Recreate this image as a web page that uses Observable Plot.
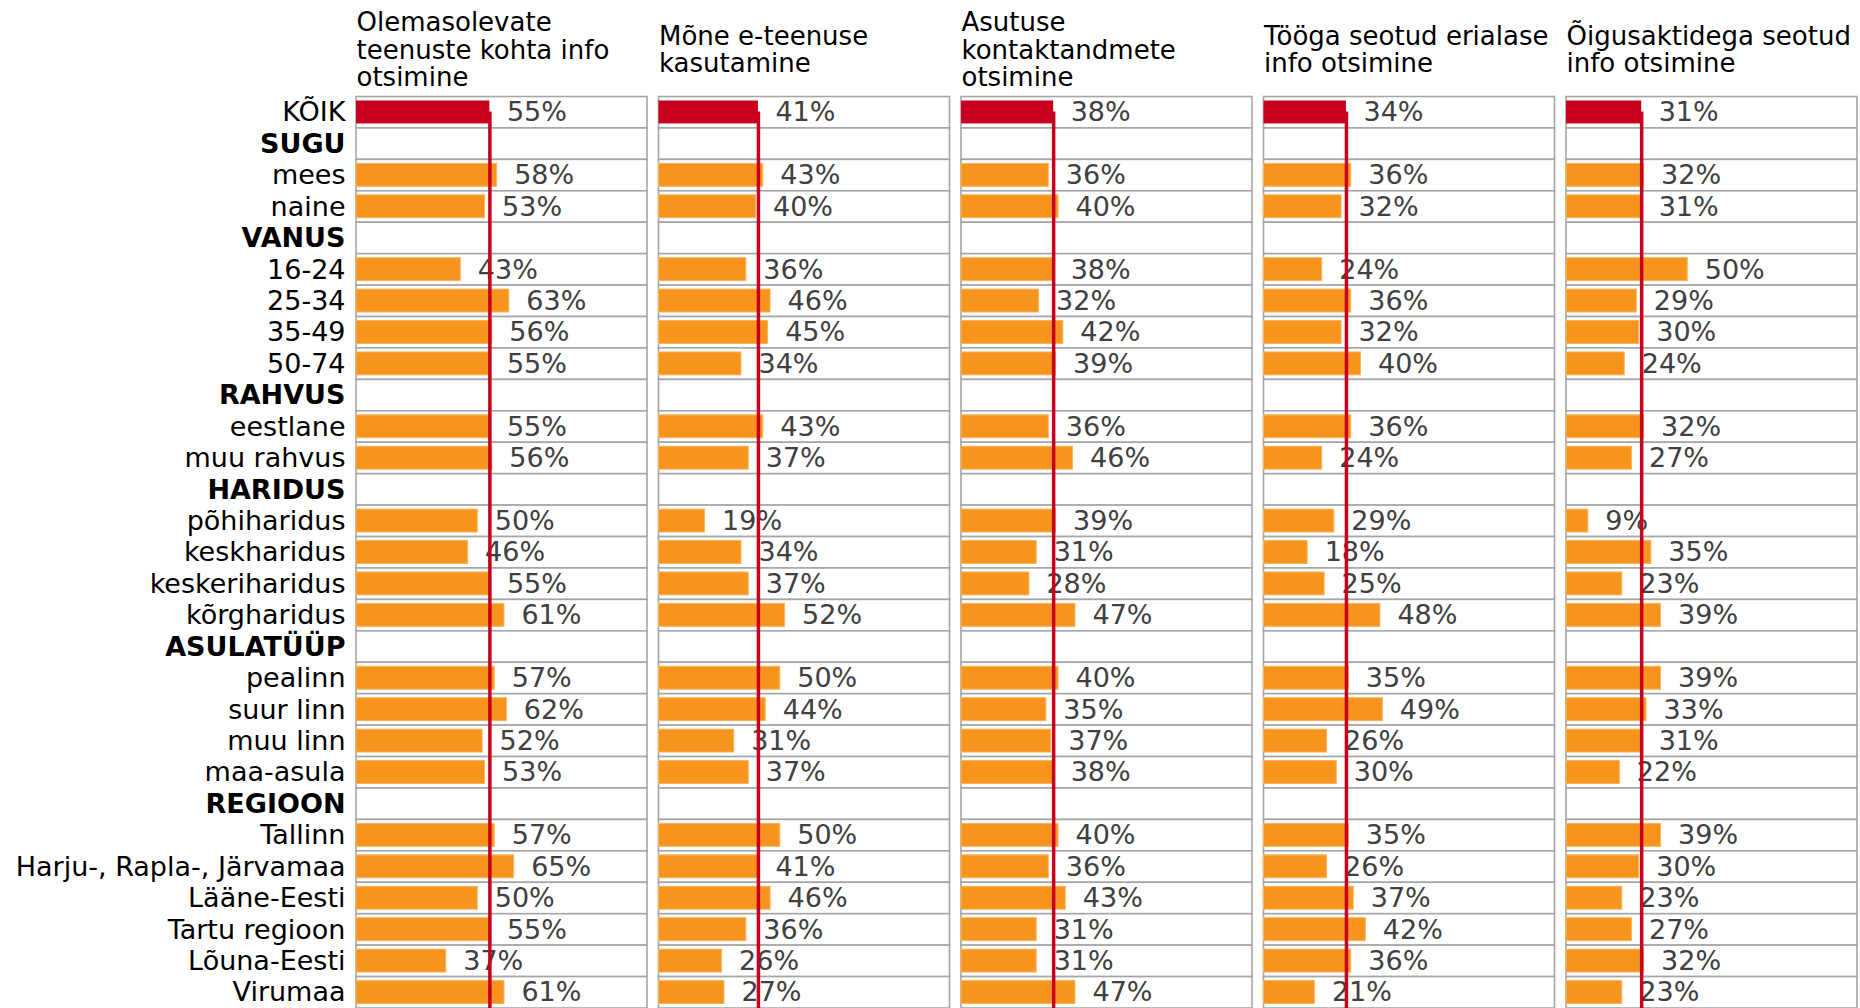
<!DOCTYPE html>
<html>
<head>
<meta charset="utf-8">
<script src="https://cdn.jsdelivr.net/npm/d3@7"></script>
<script src="https://cdn.jsdelivr.net/npm/@observablehq/plot@0.6"></script>
<style>
  html, body { margin: 0; padding: 0; background: #fff; overflow: hidden; }
  #chart { width: 1860px; height: 1008px; overflow: hidden; }
  #chart svg { display: block; max-width: none !important; width: 1860px; height: 1008px; }
</style>
</head>
<body>
<div id="chart"></div>
<script>
// ---- data ----
const rows = [
  "KÕIK",
  "SUGU", "mees", "naine",
  "VANUS", "16-24", "25-34", "35-49", "50-74",
  "RAHVUS", "eestlane", "muu rahvus",
  "HARIDUS", "põhiharidus", "keskharidus", "keskeriharidus", "kõrgharidus",
  "ASULATÜÜP", "pealinn", "suur linn", "muu linn", "maa-asula",
  "REGIOON", "Tallinn", "Harju-, Rapla-, Järvamaa", "Lääne-Eesti", "Tartu regioon", "Lõuna-Eesti", "Virumaa"
];
const groupHeads = ["SUGU", "VANUS", "RAHVUS", "HARIDUS", "ASULATÜÜP", "REGIOON"];
const columnTitles = [
  "Olemasolevate\nteenuste kohta info\notsimine",
  "Mõne e-teenuse\nkasutamine",
  "Asutuse\nkontaktandmete\notsimine",
  "Tööga seotud erialase\ninfo otsimine",
  "Õigusaktidega seotud\ninfo otsimine"
];
// values aligned with rows (null = group heading row)
const olemasolevateTeenusteInfo = [55, null,58,53, null,43,63,56,55, null,55,56, null,50,46,55,61, null,57,62,52,53, null,57,65,50,55,37,61];
const eTeenuseKasutamine        = [41, null,43,40, null,36,46,45,34, null,43,37, null,19,34,37,52, null,50,44,31,37, null,50,41,46,36,26,27];
const asutuseKontaktandmed      = [38, null,36,40, null,38,32,42,39, null,36,46, null,39,31,28,47, null,40,35,37,38, null,40,36,43,31,31,47];
const toogaSeotudInfo           = [34, null,36,32, null,24,36,32,40, null,36,24, null,29,18,25,48, null,35,49,26,30, null,35,26,37,42,36,21];
const oigusaktidegaSeotudInfo   = [31, null,32,31, null,50,29,30,24, null,32,27, null, 9,35,23,39, null,39,33,31,22, null,39,30,23,27,32,23];
const seriesList = [olemasolevateTeenusteInfo, eTeenuseKasutamine, asutuseKontaktandmed, toogaSeotudInfo, oigusaktidegaSeotudInfo];

// ---- tables built from the arrays ----
const data = [];
const grid = [];
columnTitles.forEach((col, c) => {
  rows.forEach((row, i) => {
    grid.push({col, row});
    const v = seriesList[c][i];
    if (v != null) data.push({col, row, value: v});
  });
});
const totals = data.filter(d => d.row === "KÕIK");
const groups = data.filter(d => d.row !== "KÕIK");
const titleData = columnTitles.map(col => ({col, title: col}));
const normalRows = rows.filter(r => !groupHeads.includes(r));

const FONT = "'DejaVu Sans', Verdana, sans-serif";
const RED = "#C8001E";
const ORANGE = "#F7941D";

const chart = Plot.plot({
  width: 1860,
  height: 1008,
  marginTop: 96.5,
  marginBottom: 0,
  marginLeft: 356,
  marginRight: 3,
  style: {fontFamily: FONT, fontSize: "27px", background: "#fff", overflow: "visible"},
  fx: {domain: columnTitles, axis: null, paddingInner: 0.038, paddingOuter: 0, round: false},
  x: {domain: [0, 120], axis: null},
  y: {domain: rows, padding: 0, axis: null, round: false},
  marks: [
    Plot.barX(grid, {fx: "col", y: "row", x1: 0, x2: 120, fill: "#fff", stroke: "#A6A6A6", strokeWidth: 1.6}),
    Plot.barX(groups, {fx: "col", y: "row", x: "value", fill: ORANGE, stroke: "#FBB45E", strokeWidth: 1, insetTop: 4, insetBottom: 4.5}),
    Plot.barX(totals, {fx: "col", y: "row", x: "value", fill: RED, insetTop: 4, insetBottom: 4.5}),
    Plot.text(data, {fx: "col", y: "row", x: "value", text: d => d.value + "%", dx: 17, dy: 0, textAnchor: "start", fill: "#404040", fontSize: 27}),
    Plot.ruleX(totals, {fx: "col", x: "value", stroke: RED, strokeWidth: 3.5, insetTop: 15}),
    Plot.text(titleData, {fx: "col", text: "title", frameAnchor: "top-left", textAnchor: "start", lineAnchor: "middle", lineHeight: 1.05, dy: -47, fontSize: 26, fill: "#000"}),
    Plot.axisY({ticks: normalRows, tickSize: 0, tickPadding: 11, fontSize: 27, fill: "#000", label: null}),
    Plot.axisY({ticks: groupHeads, tickSize: 0, tickPadding: 11, fontSize: 27, fontWeight: "bold", fill: "#000", label: null})
  ]
});
document.getElementById("chart").appendChild(chart);
</script>
</body>
</html>
